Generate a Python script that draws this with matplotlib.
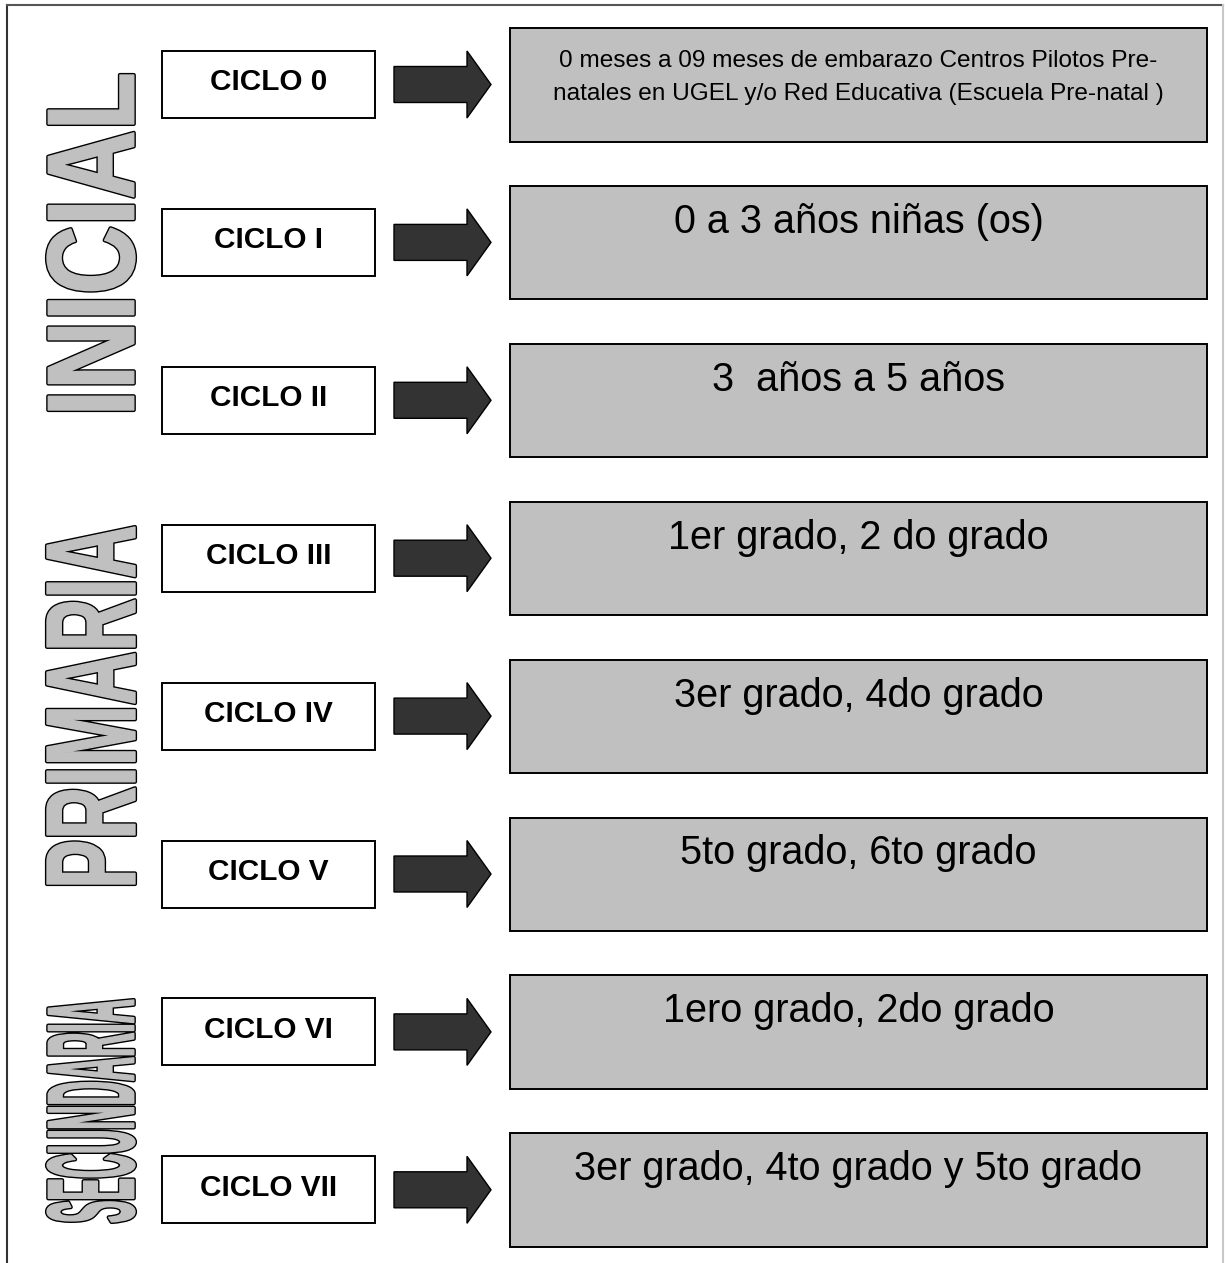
import matplotlib
matplotlib.use("Agg")
import matplotlib.pyplot as plt
import matplotlib.patches as patches
from matplotlib.path import Path
from matplotlib.textpath import TextPath
from matplotlib.font_manager import FontProperties
import numpy as np

# --- data ---
ciclos = ["CICLO 0", "CICLO I", "CICLO II", "CICLO III", "CICLO IV",
          "CICLO V", "CICLO VI", "CICLO VII"]
descripciones = [
    "0 meses a 09 meses de embarazo Centros Pilotos Pre-\nnatales en UGEL y/o Red Educativa (Escuela Pre-natal )",
    "0 a 3 años niñas (os)",
    "3  años a 5 años",
    "1er grado, 2 do grado",
    "3er grado, 4do grado",
    "5to grado, 6to grado",
    "1ero grado, 2do grado",
    "3er grado, 4to grado y 5to grado",
]
niveles = ["INICIAL", "PRIMARIA", "SECUNDARIA"]

W, H = 1225, 1263
fig = plt.figure(figsize=(W / 100, H / 100), dpi=100)
ax = fig.add_axes([0, 0, 1, 1])
ax.set_xlim(0, W)
ax.set_ylim(H, 0)
ax.axis('off')

GRAY = "#c0c0c0"
DARK = "#333333"

# outer frame
ax.plot([7, 7], [5, H], color="#333333", lw=1.5)
ax.plot([7, 1223], [5, 5], color="#555555", lw=1.5)
ax.plot([1223, 1223], [5, H], color="#c8c8c8", lw=1.5)

row0, step = 84.5, 157.9


def row_center(i):
    return row0 + i * step


for i, (ciclo, desc) in enumerate(zip(ciclos, descripciones)):
    cy = row_center(i)

    # white label box
    ax.add_patch(patches.Rectangle((162, cy - 33.5), 213, 67, fc="white",
                                   ec="black", lw=1.4, zorder=2))
    ax.text(268.5, cy + 6, ciclo, ha='center', va='baseline', fontsize=21.4,
            fontweight='bold', family='Liberation Sans', zorder=3)

    # arrow
    arrow = [(394, cy - 18), (467, cy - 18), (467, cy - 33.5), (491, cy),
             (467, cy + 33.5), (467, cy + 18), (394, cy + 18)]
    ax.add_patch(patches.Polygon(arrow, closed=True, fc=DARK, ec="black",
                                 lw=1.0, zorder=2))

    # gray description box
    top = cy - 56.5
    ax.add_patch(patches.Rectangle((510, top), 697, 113.5, fc=GRAY,
                                   ec="black", lw=1.4, zorder=2))
    if "\n" in desc:
        l1, l2 = desc.split("\n")
        for txt, base in ((l1, top + 39), (l2, top + 72)):
            ax.text(858.5, base, txt, ha='center', va='baseline',
                    fontsize=17.6, family='Liberation Sans', zorder=3)
    else:
        ax.text(858.5, top + 47, desc, ha='center', va='baseline',
                fontsize=28.5, family='Liberation Sans', zorder=3)

# vertical word-art level names (outlined, reading bottom to top)
spans = {"INICIAL": (73, 412), "PRIMARIA": (525, 886), "SECUNDARIA": (998, 1224)}
prop = FontProperties(family='Liberation Sans', weight='bold')
pad = 2.0  # the outline trick below fattens each glyph by about this much
x_left, x_right = 45 + pad, 137 - pad
for nivel in niveles:
    tp = TextPath((0, 0), nivel, size=100, prop=prop)
    ext = tp.get_extents()
    v = tp.vertices.copy()
    u = (v[:, 0] - ext.x0) / ext.width
    w = (v[:, 1] - ext.y0) / ext.height
    y_top, y_bot = spans[nivel]
    y_top, y_bot = y_top + pad, y_bot - pad
    xs = x_right - w * (x_right - x_left)
    ys = y_bot - u * (y_bot - y_top)
    path = Path(np.column_stack([xs, ys]), tp.codes)
    ax.add_patch(patches.PathPatch(path, fc=GRAY, ec="black", lw=3.0,
                                   joinstyle='round', zorder=3))
    ax.add_patch(patches.PathPatch(path, fc=GRAY, ec=GRAY, lw=1.0,
                                   joinstyle='round', zorder=4))

fig.savefig("out.png", dpi=100, facecolor="white")
